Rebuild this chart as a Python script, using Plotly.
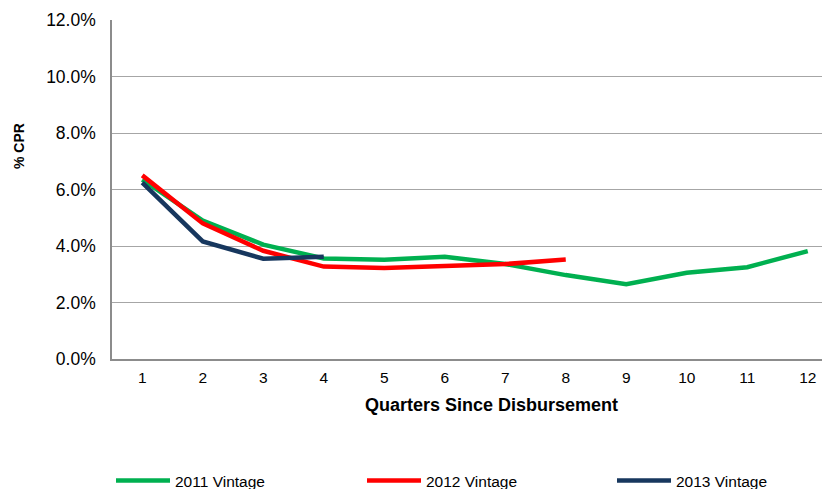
import plotly.graph_objects as go

quarters = list(range(1, 13))
vintage_2011 = [6.35, 4.90, 4.05, 3.56, 3.51, 3.62, 3.36, 2.97, 2.65, 3.05, 3.25, 3.82]
vintage_2012 = [6.50, 4.80, 3.83, 3.27, 3.22, 3.27, 3.36, 3.52]
vintage_2013 = [6.24, 4.16, 3.55, 3.62]
y_ticks = [0, 2, 4, 6, 8, 10, 12]

series = [
    ("2011 Vintage", vintage_2011, "#00B050", "legend"),
    ("2012 Vintage", vintage_2012, "#FF0000", "legend2"),
    ("2013 Vintage", vintage_2013, "#17375E", "legend3"),
]

fig = go.Figure()
for name, vals, color, lg in series:
    fig.add_trace(go.Scatter(
        x=quarters[:len(vals)], y=vals, name=name, mode="lines",
        line=dict(color=color, width=4.5), legend=lg,
    ))

# page has an 8px body margin; figure coords = page coords - 8
OFF = 8
W, H = 830, 489
L = 112 - OFF
T = 20 - OFF
B = H - (359 - OFF)
R = 0
PW = W - L - R
PH = H - T - B


def px_x(page_x):
    return (page_x - OFF - L) / PW


def px_y(page_y):
    return (H - B - (page_y - OFF)) / PH


legend_style = dict(
    orientation="h", xref="container", yref="container",
    xanchor="left", yanchor="middle", y=1 - (481 - OFF) / H,
    itemwidth=54, font=dict(size=15.5), bgcolor="rgba(0,0,0,0)",
)
leg_starts = [118, 369, 619]

fig.update_layout(
    width=W, height=H,
    margin=dict(l=L, r=R, t=T, b=B, pad=0, autoexpand=False),
    paper_bgcolor="white", plot_bgcolor="white",
    font=dict(family="Liberation Sans, Arial, sans-serif", size=15, color="#000000"),
    showlegend=True,
    legend=dict(legend_style, x=(leg_starts[0] - OFF - 7) / W),
    legend2=dict(legend_style, x=(leg_starts[1] - OFF - 7) / W),
    legend3=dict(legend_style, x=(leg_starts[2] - OFF - 7) / W),
    xaxis=dict(
        range=[0.5, 12.5], tickvals=quarters, ticktext=[str(q) for q in quarters],
        showgrid=False, showline=True, linecolor="#8C8C8C", linewidth=1.5,
        ticks="", ticklabelstandoff=4, zeroline=False, automargin=False,
        tickfont=dict(size=15.5),
    ),
    yaxis=dict(
        range=[0, 12], tickvals=y_ticks, ticktext=[f"{v:.1f}%" for v in y_ticks],
        showgrid=True, gridcolor="#A6A6A6", gridwidth=1,
        showline=True, linecolor="#8C8C8C", linewidth=1.5,
        ticks="", ticklabelstandoff=11, zeroline=False, automargin=False,
        tickfont=dict(size=17.5),
    ),
    annotations=[
        dict(text="<b>Quarters Since Disbursement</b>", xref="paper", yref="paper",
             x=px_x(491), y=px_y(405),
             xanchor="center", yanchor="middle", showarrow=False, font=dict(size=18)),
        dict(text="<b>% CPR</b>", xref="paper", yref="paper",
             x=px_x(19), y=px_y(146),
             xanchor="center", yanchor="middle", textangle=-90, showarrow=False,
             font=dict(size=14)),
    ],
)

fig.write_html("out.html")
